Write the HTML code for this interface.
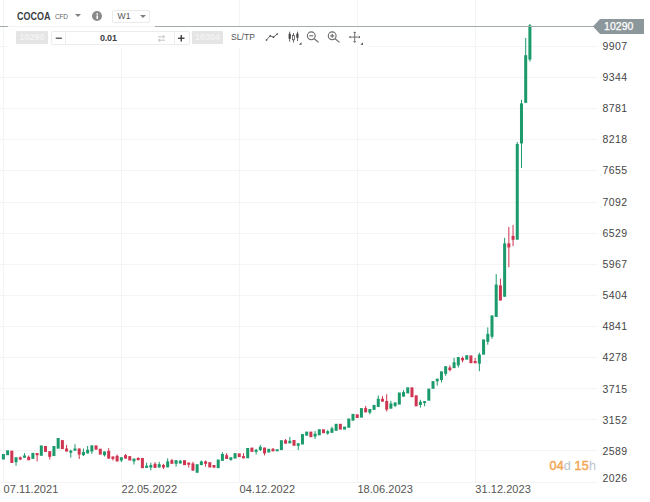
<!DOCTYPE html>
<html><head><meta charset="utf-8"><title>COCOA W1</title>
<style>
html,body{margin:0;padding:0;background:#fff;}
body{width:650px;height:502px;overflow:hidden;position:relative;font-family:"Liberation Sans",sans-serif;color:#444;}
#chart{position:absolute;left:0;top:0;width:650px;height:502px;}
.yl{position:absolute;left:602.6px;font-size:10.5px;line-height:14px;height:14px;color:#454545;letter-spacing:0.4px;}
.xl{position:absolute;top:482px;font-size:11px;line-height:14px;color:#555;letter-spacing:0.05px;}
#pl{position:absolute;left:0;top:26px;width:594px;height:1px;background:#a3abad;}
#ptag{position:absolute;left:593px;top:19px;width:51px;height:15px;}
#ptxt{position:absolute;left:604px;top:19px;font-size:10.5px;line-height:15px;color:#fff;letter-spacing:0.05px;-webkit-text-stroke:0.25px #fff;}
#hdr{position:absolute;left:8px;top:0;width:147px;height:30px;background:rgba(255,255,255,0.85);}
#sym{position:absolute;left:17px;top:10px;font-size:10.5px;line-height:12px;font-weight:bold;color:#3c4043;transform:scaleX(0.855);transform-origin:0 0;}
#cfd{position:absolute;left:55px;top:12px;font-size:6.5px;line-height:9px;color:#666;letter-spacing:-0.2px;}
.tri{position:absolute;width:0;height:0;border-left:3px solid transparent;border-right:3px solid transparent;border-top:3.5px solid #808080;}
#info{position:absolute;left:92px;top:11px;width:10.4px;height:10.4px;border-radius:50%;background:#8a8a8a;}
#w1{position:absolute;left:112px;top:10px;width:36px;height:10.5px;border:1px solid #ebebeb;border-radius:2px;background:#fff;}
#w1 span{position:absolute;left:4.6px;top:0;font-size:8.6px;line-height:11.5px;color:#555;}
.btn{position:absolute;top:31px;height:13px;background:#e5e5e5;border-radius:1px;color:#f3f3f3;font-size:9px;line-height:13px;text-align:center;font-weight:bold;}
#inp{position:absolute;left:51px;top:31px;width:137px;height:12px;border:1px solid #ececec;border-radius:2px;background:#fff;}
#inp .sep{position:absolute;top:0;width:1px;height:12px;background:#ececec;}
#vol{position:absolute;left:100px;top:31px;font-size:9px;line-height:14px;font-weight:bold;color:#3c4043;letter-spacing:-0.2px;}
#sltp{position:absolute;left:231px;top:30px;font-size:8.6px;line-height:14px;color:#555;}
#timer{position:absolute;left:549.5px;top:457.6px;font-size:12.6px;line-height:16px;font-weight:normal;-webkit-text-stroke:0.45px #f2a654;color:#f2a654;letter-spacing:0.15px;white-space:pre;}
#timer i{font-style:normal;color:#b7c3ca;font-weight:normal;-webkit-text-stroke:0;}
</style></head><body>
<svg id="chart" width="650" height="502" viewBox="0 0 650 502" shape-rendering="crispEdges">
<rect x="0" y="46" width="597" height="1" fill="#f4f4f4"/>
<rect x="0" y="77" width="597" height="1" fill="#f4f4f4"/>
<rect x="0" y="108" width="597" height="1" fill="#f4f4f4"/>
<rect x="0" y="139" width="597" height="1" fill="#f4f4f4"/>
<rect x="0" y="170" width="597" height="1" fill="#f4f4f4"/>
<rect x="0" y="202" width="597" height="1" fill="#f4f4f4"/>
<rect x="0" y="233" width="597" height="1" fill="#f4f4f4"/>
<rect x="0" y="264" width="597" height="1" fill="#f4f4f4"/>
<rect x="0" y="295" width="597" height="1" fill="#f4f4f4"/>
<rect x="0" y="326" width="597" height="1" fill="#f4f4f4"/>
<rect x="0" y="357" width="597" height="1" fill="#f4f4f4"/>
<rect x="0" y="388" width="597" height="1" fill="#f4f4f4"/>
<rect x="0" y="419" width="597" height="1" fill="#f4f4f4"/>
<rect x="0" y="450" width="597" height="1" fill="#f4f4f4"/>
<rect x="0" y="482" width="597" height="1" fill="#f4f4f4"/>
<rect x="2.9" y="0" width="1" height="483" fill="#f4f4f4"/>
<rect x="120.8" y="0" width="1" height="483" fill="#f4f4f4"/>
<rect x="238.8" y="0" width="1" height="483" fill="#f4f4f4"/>
<rect x="356.7" y="0" width="1" height="483" fill="#f4f4f4"/>
<rect x="474.6" y="0" width="1" height="483" fill="#f4f4f4"/>

<g shape-rendering="auto">
<rect x="1.90" y="454.0" width="3" height="5.5" fill="#1b9a6c"/>
<rect x="6.11" y="450.3" width="3" height="4.9" fill="#1b9a6c"/>
<rect x="10.32" y="450.7" width="3" height="12.3" fill="#cf3450"/>
<rect x="15.54" y="457.3" width="1" height="8.4" fill="#1b9a6c"/>
<rect x="14.54" y="457.3" width="3" height="4.9" fill="#1b9a6c"/>
<rect x="19.75" y="456.5" width="1" height="3.7" fill="#cf3450"/>
<rect x="18.75" y="457.3" width="3" height="2.2" fill="#cf3450"/>
<rect x="23.96" y="453.1" width="1" height="4.6" fill="#1b9a6c"/>
<rect x="22.96" y="455.5" width="3" height="2.2" fill="#1b9a6c"/>
<rect x="28.17" y="455.5" width="1" height="4.7" fill="#cf3450"/>
<rect x="27.17" y="456.8" width="3" height="3.4" fill="#cf3450"/>
<rect x="31.38" y="452.8" width="3" height="6.1" fill="#1b9a6c"/>
<rect x="36.60" y="453.1" width="1" height="8.3" fill="#cf3450"/>
<rect x="35.60" y="453.1" width="3" height="2.1" fill="#cf3450"/>
<rect x="39.81" y="445.4" width="3" height="10.4" fill="#1b9a6c"/>
<rect x="44.02" y="446.0" width="3" height="5.9" fill="#cf3450"/>
<rect x="49.23" y="451.2" width="1" height="8.3" fill="#cf3450"/>
<rect x="48.23" y="451.2" width="3" height="5.6" fill="#cf3450"/>
<rect x="52.44" y="446.0" width="3" height="10.1" fill="#1b9a6c"/>
<rect x="56.66" y="438.0" width="3" height="10.7" fill="#1b9a6c"/>
<rect x="60.87" y="440.1" width="3" height="9.0" fill="#cf3450"/>
<rect x="66.08" y="445.0" width="1" height="6.5" fill="#cf3450"/>
<rect x="65.08" y="448.5" width="3" height="3.0" fill="#cf3450"/>
<rect x="70.29" y="449.7" width="1" height="8.0" fill="#1b9a6c"/>
<rect x="69.29" y="450.7" width="3" height="2.1" fill="#1b9a6c"/>
<rect x="74.50" y="444.2" width="1" height="6.5" fill="#1b9a6c"/>
<rect x="73.50" y="448.5" width="3" height="2.2" fill="#1b9a6c"/>
<rect x="78.72" y="448.5" width="1" height="10.5" fill="#cf3450"/>
<rect x="77.72" y="448.5" width="3" height="6.1" fill="#cf3450"/>
<rect x="82.93" y="448.5" width="1" height="7.6" fill="#1b9a6c"/>
<rect x="81.93" y="451.9" width="3" height="3.3" fill="#1b9a6c"/>
<rect x="87.14" y="446.0" width="1" height="7.4" fill="#1b9a6c"/>
<rect x="86.14" y="449.7" width="3" height="3.7" fill="#1b9a6c"/>
<rect x="91.35" y="445.4" width="1" height="8.6" fill="#1b9a6c"/>
<rect x="90.35" y="445.4" width="3" height="6.1" fill="#1b9a6c"/>
<rect x="94.56" y="445.4" width="3" height="4.3" fill="#cf3450"/>
<rect x="98.78" y="448.7" width="3" height="5.9" fill="#cf3450"/>
<rect x="103.99" y="451.5" width="1" height="5.0" fill="#1b9a6c"/>
<rect x="102.99" y="451.5" width="3" height="3.7" fill="#1b9a6c"/>
<rect x="108.20" y="448.2" width="1" height="10.4" fill="#cf3450"/>
<rect x="107.20" y="450.9" width="3" height="7.7" fill="#cf3450"/>
<rect x="112.41" y="456.5" width="1" height="4.0" fill="#cf3450"/>
<rect x="111.41" y="456.5" width="3" height="2.4" fill="#cf3450"/>
<rect x="116.62" y="454.6" width="1" height="6.8" fill="#cf3450"/>
<rect x="115.62" y="455.8" width="3" height="5.6" fill="#cf3450"/>
<rect x="120.84" y="457.3" width="1" height="4.7" fill="#1b9a6c"/>
<rect x="119.84" y="457.3" width="3" height="3.2" fill="#1b9a6c"/>
<rect x="125.05" y="454.0" width="1" height="4.6" fill="#cf3450"/>
<rect x="124.05" y="455.2" width="3" height="3.4" fill="#cf3450"/>
<rect x="128.26" y="456.1" width="3" height="4.4" fill="#cf3450"/>
<rect x="133.47" y="458.6" width="1" height="5.9" fill="#1b9a6c"/>
<rect x="132.47" y="458.6" width="3" height="2.8" fill="#1b9a6c"/>
<rect x="137.68" y="457.1" width="1" height="3.1" fill="#cf3450"/>
<rect x="136.68" y="458.0" width="3" height="2.2" fill="#cf3450"/>
<rect x="140.90" y="458.0" width="3" height="10.2" fill="#cf3450"/>
<rect x="146.11" y="462.6" width="1" height="5.3" fill="#1b9a6c"/>
<rect x="145.11" y="465.7" width="3" height="2.2" fill="#1b9a6c"/>
<rect x="150.32" y="462.6" width="1" height="7.8" fill="#1b9a6c"/>
<rect x="149.32" y="465.0" width="3" height="2.5" fill="#1b9a6c"/>
<rect x="154.53" y="462.2" width="1" height="5.7" fill="#cf3450"/>
<rect x="153.53" y="463.8" width="3" height="4.1" fill="#cf3450"/>
<rect x="158.74" y="461.8" width="1" height="5.7" fill="#1b9a6c"/>
<rect x="157.74" y="464.2" width="3" height="3.3" fill="#1b9a6c"/>
<rect x="162.96" y="463.8" width="1" height="5.3" fill="#cf3450"/>
<rect x="161.96" y="465.0" width="3" height="2.5" fill="#cf3450"/>
<rect x="167.17" y="458.3" width="1" height="9.0" fill="#1b9a6c"/>
<rect x="166.17" y="461.4" width="3" height="5.9" fill="#1b9a6c"/>
<rect x="171.38" y="459.0" width="1" height="4.8" fill="#cf3450"/>
<rect x="170.38" y="460.2" width="3" height="3.6" fill="#cf3450"/>
<rect x="175.59" y="460.2" width="1" height="6.5" fill="#1b9a6c"/>
<rect x="174.59" y="460.2" width="3" height="3.6" fill="#1b9a6c"/>
<rect x="179.80" y="459.9" width="1" height="3.6" fill="#1b9a6c"/>
<rect x="178.80" y="460.8" width="3" height="2.7" fill="#1b9a6c"/>
<rect x="183.02" y="460.2" width="3" height="4.9" fill="#cf3450"/>
<rect x="188.23" y="462.6" width="1" height="4.9" fill="#cf3450"/>
<rect x="187.23" y="462.6" width="3" height="2.1" fill="#cf3450"/>
<rect x="192.44" y="461.8" width="1" height="8.8" fill="#cf3450"/>
<rect x="191.44" y="463.5" width="3" height="7.1" fill="#cf3450"/>
<rect x="195.65" y="464.2" width="3" height="8.6" fill="#1b9a6c"/>
<rect x="200.86" y="460.5" width="1" height="4.6" fill="#1b9a6c"/>
<rect x="199.86" y="461.4" width="3" height="3.7" fill="#1b9a6c"/>
<rect x="205.08" y="460.5" width="1" height="6.2" fill="#cf3450"/>
<rect x="204.08" y="461.4" width="3" height="2.4" fill="#cf3450"/>
<rect x="208.29" y="462.2" width="3" height="5.3" fill="#cf3450"/>
<rect x="213.50" y="465.0" width="1" height="3.2" fill="#cf3450"/>
<rect x="212.50" y="465.0" width="3" height="2.5" fill="#cf3450"/>
<rect x="216.71" y="459.5" width="3" height="8.7" fill="#1b9a6c"/>
<rect x="221.92" y="452.2" width="1" height="8.6" fill="#1b9a6c"/>
<rect x="220.92" y="454.0" width="3" height="6.8" fill="#1b9a6c"/>
<rect x="226.14" y="453.1" width="1" height="5.8" fill="#cf3450"/>
<rect x="225.14" y="455.2" width="3" height="3.7" fill="#cf3450"/>
<rect x="230.35" y="457.3" width="1" height="3.5" fill="#1b9a6c"/>
<rect x="229.35" y="457.3" width="3" height="2.6" fill="#1b9a6c"/>
<rect x="233.56" y="453.1" width="3" height="5.5" fill="#1b9a6c"/>
<rect x="237.77" y="453.4" width="3" height="3.7" fill="#cf3450"/>
<rect x="242.98" y="453.2" width="1" height="5.1" fill="#cf3450"/>
<rect x="241.98" y="456.2" width="3" height="2.1" fill="#cf3450"/>
<rect x="246.20" y="448.0" width="3" height="10.3" fill="#1b9a6c"/>
<rect x="250.41" y="447.6" width="3" height="4.3" fill="#cf3450"/>
<rect x="255.62" y="448.8" width="1" height="5.6" fill="#1b9a6c"/>
<rect x="254.62" y="449.8" width="3" height="2.1" fill="#1b9a6c"/>
<rect x="259.83" y="444.9" width="1" height="6.1" fill="#1b9a6c"/>
<rect x="258.83" y="446.8" width="3" height="3.3" fill="#1b9a6c"/>
<rect x="264.04" y="447.6" width="1" height="7.8" fill="#cf3450"/>
<rect x="263.04" y="447.6" width="3" height="5.8" fill="#cf3450"/>
<rect x="267.26" y="448.8" width="3" height="3.7" fill="#1b9a6c"/>
<rect x="272.47" y="448.0" width="1" height="3.3" fill="#cf3450"/>
<rect x="271.47" y="448.8" width="3" height="2.5" fill="#cf3450"/>
<rect x="275.68" y="449.2" width="3" height="2.1" fill="#1b9a6c"/>
<rect x="279.89" y="440.2" width="3" height="9.9" fill="#1b9a6c"/>
<rect x="285.10" y="439.0" width="1" height="4.6" fill="#cf3450"/>
<rect x="284.10" y="440.2" width="3" height="3.4" fill="#cf3450"/>
<rect x="289.32" y="436.9" width="1" height="6.4" fill="#1b9a6c"/>
<rect x="288.32" y="440.8" width="3" height="2.5" fill="#1b9a6c"/>
<rect x="292.53" y="440.0" width="3" height="5.8" fill="#cf3450"/>
<rect x="297.74" y="443.3" width="1" height="6.8" fill="#1b9a6c"/>
<rect x="296.74" y="443.3" width="3" height="2.5" fill="#1b9a6c"/>
<rect x="300.95" y="434.1" width="3" height="10.4" fill="#1b9a6c"/>
<rect x="305.16" y="431.6" width="3" height="4.1" fill="#1b9a6c"/>
<rect x="309.38" y="431.6" width="3" height="5.6" fill="#cf3450"/>
<rect x="314.59" y="431.0" width="1" height="8.0" fill="#1b9a6c"/>
<rect x="313.59" y="433.7" width="3" height="2.8" fill="#1b9a6c"/>
<rect x="317.80" y="429.2" width="3" height="6.1" fill="#1b9a6c"/>
<rect x="322.01" y="429.3" width="3" height="3.9" fill="#cf3450"/>
<rect x="327.22" y="429.9" width="1" height="4.9" fill="#1b9a6c"/>
<rect x="326.22" y="431.2" width="3" height="2.4" fill="#1b9a6c"/>
<rect x="331.44" y="426.6" width="1" height="6.2" fill="#1b9a6c"/>
<rect x="330.44" y="428.3" width="3" height="4.5" fill="#1b9a6c"/>
<rect x="334.65" y="423.8" width="3" height="7.0" fill="#1b9a6c"/>
<rect x="338.86" y="423.8" width="3" height="5.8" fill="#cf3450"/>
<rect x="343.07" y="426.6" width="3" height="3.0" fill="#1b9a6c"/>
<rect x="347.28" y="418.5" width="3" height="9.3" fill="#1b9a6c"/>
<rect x="351.50" y="413.9" width="3" height="6.8" fill="#1b9a6c"/>
<rect x="355.71" y="414.3" width="3" height="3.7" fill="#cf3450"/>
<rect x="359.92" y="408.1" width="3" height="9.5" fill="#1b9a6c"/>
<rect x="365.13" y="405.9" width="1" height="6.4" fill="#cf3450"/>
<rect x="364.13" y="408.1" width="3" height="4.2" fill="#cf3450"/>
<rect x="369.34" y="409.0" width="1" height="5.3" fill="#1b9a6c"/>
<rect x="368.34" y="409.0" width="3" height="3.7" fill="#1b9a6c"/>
<rect x="372.56" y="404.9" width="3" height="5.0" fill="#1b9a6c"/>
<rect x="377.77" y="395.5" width="1" height="11.4" fill="#1b9a6c"/>
<rect x="376.77" y="398.8" width="3" height="8.1" fill="#1b9a6c"/>
<rect x="381.98" y="396.1" width="1" height="5.5" fill="#cf3450"/>
<rect x="380.98" y="398.8" width="3" height="2.8" fill="#cf3450"/>
<rect x="386.19" y="394.2" width="1" height="17.3" fill="#cf3450"/>
<rect x="385.19" y="401.0" width="3" height="8.6" fill="#cf3450"/>
<rect x="390.40" y="400.8" width="1" height="7.8" fill="#1b9a6c"/>
<rect x="389.40" y="403.5" width="3" height="5.1" fill="#1b9a6c"/>
<rect x="394.62" y="402.5" width="1" height="4.7" fill="#1b9a6c"/>
<rect x="393.62" y="402.5" width="3" height="3.4" fill="#1b9a6c"/>
<rect x="397.83" y="392.5" width="3" height="12.1" fill="#1b9a6c"/>
<rect x="403.04" y="390.1" width="1" height="6.5" fill="#1b9a6c"/>
<rect x="402.04" y="392.1" width="3" height="4.5" fill="#1b9a6c"/>
<rect x="406.25" y="387.3" width="3" height="6.1" fill="#1b9a6c"/>
<rect x="410.46" y="387.3" width="3" height="9.9" fill="#cf3450"/>
<rect x="414.68" y="395.3" width="3" height="11.0" fill="#cf3450"/>
<rect x="419.89" y="399.8" width="1" height="7.8" fill="#1b9a6c"/>
<rect x="418.89" y="401.8" width="3" height="3.2" fill="#1b9a6c"/>
<rect x="424.10" y="401.1" width="1" height="5.2" fill="#1b9a6c"/>
<rect x="423.10" y="401.1" width="3" height="2.0" fill="#1b9a6c"/>
<rect x="427.31" y="388.6" width="3" height="12.1" fill="#1b9a6c"/>
<rect x="431.52" y="381.1" width="3" height="7.7" fill="#1b9a6c"/>
<rect x="436.74" y="378.7" width="1" height="6.9" fill="#1b9a6c"/>
<rect x="435.74" y="378.7" width="3" height="2.6" fill="#1b9a6c"/>
<rect x="440.95" y="371.4" width="1" height="11.0" fill="#1b9a6c"/>
<rect x="439.95" y="371.4" width="3" height="8.6" fill="#1b9a6c"/>
<rect x="445.16" y="366.2" width="1" height="9.7" fill="#1b9a6c"/>
<rect x="444.16" y="366.2" width="3" height="7.7" fill="#1b9a6c"/>
<rect x="449.37" y="365.3" width="1" height="6.1" fill="#cf3450"/>
<rect x="448.37" y="367.5" width="3" height="2.6" fill="#cf3450"/>
<rect x="453.58" y="357.8" width="1" height="10.3" fill="#1b9a6c"/>
<rect x="452.58" y="362.3" width="3" height="5.8" fill="#1b9a6c"/>
<rect x="457.80" y="357.1" width="1" height="10.4" fill="#1b9a6c"/>
<rect x="456.80" y="357.1" width="3" height="8.2" fill="#1b9a6c"/>
<rect x="462.01" y="356.5" width="1" height="5.8" fill="#cf3450"/>
<rect x="461.01" y="358.0" width="3" height="2.4" fill="#cf3450"/>
<rect x="465.22" y="355.2" width="3" height="4.5" fill="#1b9a6c"/>
<rect x="469.43" y="355.4" width="3" height="7.8" fill="#cf3450"/>
<rect x="474.64" y="358.0" width="1" height="5.2" fill="#cf3450"/>
<rect x="473.64" y="361.0" width="3" height="2.2" fill="#cf3450"/>
<rect x="478.86" y="352.7" width="1" height="18.5" fill="#1b9a6c"/>
<rect x="477.86" y="354.5" width="3" height="9.2" fill="#1b9a6c"/>
<rect x="482.07" y="339.4" width="3" height="15.3" fill="#1b9a6c"/>
<rect x="487.28" y="327.4" width="1" height="17.3" fill="#1b9a6c"/>
<rect x="486.28" y="333.8" width="3" height="8.0" fill="#1b9a6c"/>
<rect x="491.49" y="315.5" width="1" height="23.3" fill="#1b9a6c"/>
<rect x="490.49" y="315.5" width="3" height="21.3" fill="#1b9a6c"/>
<rect x="495.70" y="274.1" width="1" height="42.8" fill="#1b9a6c"/>
<rect x="494.70" y="284.6" width="3" height="32.3" fill="#1b9a6c"/>
<rect x="499.92" y="278.7" width="1" height="21.8" fill="#cf3450"/>
<rect x="498.92" y="285.4" width="3" height="15.1" fill="#cf3450"/>
<rect x="504.13" y="237.8" width="1" height="58.9" fill="#1b9a6c"/>
<rect x="503.13" y="243.4" width="3" height="53.3" fill="#1b9a6c"/>
<rect x="508.34" y="226.9" width="1" height="40.4" fill="#cf3450"/>
<rect x="507.34" y="243.4" width="3" height="4.0" fill="#cf3450"/>
<rect x="512.55" y="224.9" width="1" height="21.3" fill="#cf3450"/>
<rect x="511.55" y="235.9" width="3" height="3.9" fill="#cf3450"/>
<rect x="516.76" y="142.0" width="1" height="97.6" fill="#1b9a6c"/>
<rect x="515.76" y="144.0" width="3" height="95.6" fill="#1b9a6c"/>
<rect x="520.98" y="99.8" width="1" height="68.2" fill="#1b9a6c"/>
<rect x="519.98" y="103.4" width="3" height="40.0" fill="#1b9a6c"/>
<rect x="525.19" y="37.9" width="1" height="64.9" fill="#1b9a6c"/>
<rect x="524.19" y="55.2" width="3" height="47.6" fill="#1b9a6c"/>
<rect x="529.40" y="24.0" width="1" height="37.6" fill="#1b9a6c"/>
<rect x="528.40" y="25.3" width="3" height="34.3" fill="#1b9a6c"/>
</g>
</svg>
<div id="pl"></div>
<svg id="ptag" width="51" height="15" viewBox="0 0 51 15"><path d="M0 7.5 L7 0 H51 V15 H7 Z" fill="#8c979b"/></svg>
<div id="ptxt">10290</div>
<div class="yl" style="top:39px">9907</div>
<div class="yl" style="top:70px">9344</div>
<div class="yl" style="top:101px">8781</div>
<div class="yl" style="top:132px">8218</div>
<div class="yl" style="top:163px">7655</div>
<div class="yl" style="top:195px">7092</div>
<div class="yl" style="top:226px">6529</div>
<div class="yl" style="top:257px">5967</div>
<div class="yl" style="top:288px">5404</div>
<div class="yl" style="top:319px">4841</div>
<div class="yl" style="top:350px">4278</div>
<div class="yl" style="top:382px">3715</div>
<div class="yl" style="top:413px">3152</div>
<div class="yl" style="top:444px">2589</div>
<div class="yl" style="top:471px">2026</div>

<div class="xl" style="left:3.6px">07.11.2021</div>
<div class="xl" style="left:121.5px">22.05.2022</div>
<div class="xl" style="left:239.5px">04.12.2022</div>
<div class="xl" style="left:357.4px">18.06.2023</div>
<div class="xl" style="left:475.3px">31.12.2023</div>

<div id="timer">04<i>d</i> 15<i>h</i></div>

<div id="hdr"></div><div style="position:absolute;left:8px;top:27px;width:360px;height:21px;background:rgba(255,255,255,0.85)"></div>
<div id="sym">COCOA</div>
<div id="cfd">CFD</div>
<div class="tri" style="left:75px;top:14px"></div>
<div id="info"><svg width="10.4" height="10.4" viewBox="0 0 10.4 10.4" style="position:absolute;left:0;top:0"><rect x="4.5" y="4.4" width="1.5" height="3.6" fill="#fff"/><rect x="4.5" y="2.2" width="1.5" height="1.5" fill="#fff"/></svg></div>
<div id="w1"><span>W1</span></div>
<div class="tri" style="left:140px;top:14.5px"></div>

<div class="btn" style="left:16px;width:32px">10290</div>
<div id="inp"><div class="sep" style="left:13px"></div><div class="sep" style="left:122px"></div>
<svg width="137" height="12" viewBox="0 0 137 12" style="position:absolute;left:0;top:0">
<rect x="3.7" y="5.6" width="6.2" height="1.2" fill="#444"/>
<rect x="126" y="5.6" width="6.5" height="1.3" fill="#333"/><rect x="128.6" y="3" width="1.3" height="6.5" fill="#333"/>
<g fill="none" stroke="#bdbdbd" stroke-width="0.9"><path d="M106 4.8 H112.5 M110.8 3 L112.6 4.8 L110.8 6.4"/><path d="M113 8.2 H106.5 M108.2 6.6 L106.4 8.2 L108.2 9.9"/></g>
</svg></div>
<div id="vol">0.01</div>
<div class="btn" style="left:192px;width:31px">10304</div>
<div id="sltp">SL/TP</div>
<svg width="110" height="18" viewBox="0 0 110 18" style="position:absolute;left:260px;top:29px">
<!-- line icon -->
<g fill="none" stroke="#444" stroke-width="0.8"><path d="M6.5 11 L10.2 6.8 L13.5 8.2 L17.2 5"/></g>
<g fill="#444"><circle cx="6.5" cy="11" r="0.85"/><circle cx="10.2" cy="6.8" r="0.85"/><circle cx="13.5" cy="8.2" r="0.85"/><circle cx="17.2" cy="5" r="0.85"/></g>
<!-- candles icon -->
<g fill="#444"><rect x="29.3" y="2.6" width="0.8" height="10"/><rect x="28.6" y="4.8" width="2.2" height="5"/>
<rect x="33.1" y="4" width="0.8" height="9.5"/><rect x="32.5" y="6.6" width="2" height="4.2" fill="#fff" stroke="#444" stroke-width="0.7"/>
<rect x="37" y="2.6" width="0.8" height="9.5"/><rect x="36.3" y="4.6" width="2.2" height="4.2"/>
<path d="M41.5 13.3 V15.8 H39 Z"/></g>
<!-- zoom out -->
<g fill="none" stroke="#6c6c6c" stroke-width="1.15"><circle cx="51.3" cy="6.8" r="3.9"/><path d="M54.2 9.7 L58.6 13.4"/><path d="M49.3 6.8 H53.3"/></g>
<!-- zoom in -->
<g fill="none" stroke="#6c6c6c" stroke-width="1.15"><circle cx="72.2" cy="6.8" r="3.9"/><path d="M75.1 9.7 L79.5 13.4"/><path d="M70.2 6.8 H74.2 M72.2 4.8 V8.8"/></g>
<!-- move -->
<g fill="none" stroke="#555" stroke-width="0.85"><path d="M89.5 8.1 H100 M94.7 2.9 V13.4"/><path d="M93.6 4 L94.7 2.9 L95.8 4 M93.6 12.3 L94.7 13.4 L95.8 12.3 M90.6 7 L89.5 8.1 L90.6 9.2 M98.9 7 L100 8.1 L98.9 9.2"/></g>
<path d="M103 13.3 V15.8 H100.5 Z" fill="#444"/>
</svg>
</body></html>
